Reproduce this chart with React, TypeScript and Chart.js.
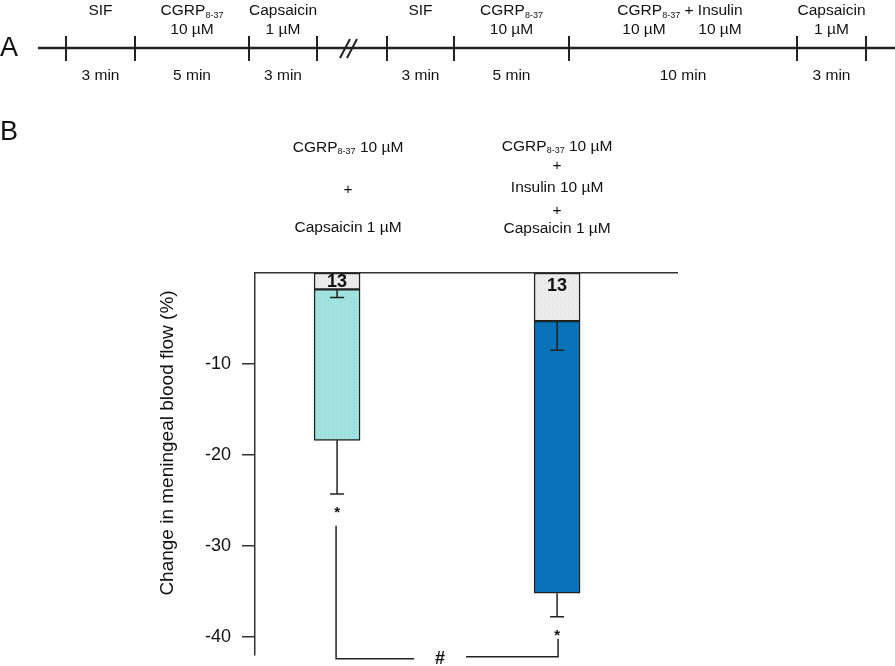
import React, { useEffect, useRef } from 'react';
import { Chart, registerables } from 'chart.js';

Chart.register(...registerables);

const FAMILY = "Arial, 'Liberation Sans', Helvetica, sans-serif";

// ---- data ----
const groupPositions = [1, 2];
const groupLabelLines = [
  ['CGRP_{8-37} 10 µM', '+', 'Capsaicin 1 µM'],
  ['CGRP_{8-37} 10 µM', '+', 'Insulin 10 µM', '+', 'Capsaicin 1 µM'],
];
const baselineValues = [-1.8, -5.3];
const baselineErrors = [0.9, 3.2];
const responseValues = [-18.4, -35.2];
const responseErrors = [5.9, 2.6];
const nLabels = ['13', '13'];
const significanceMarks = ['*', '*'];
const bracketTopValues = [-27.8, -40.2];
const yTickValues = [-10, -20, -30, -40];
const yAxisTitle = 'Change in meningeal blood flow (%)';

// timeline (panel A)
const timelineTicks = [66, 135, 249, 317, 387, 454, 569, 797, 866];
const timelineRow1 = [
  { t: 'SIF', x: 100.5 },
  { t: 'CGRP_{8-37}', x: 192 },
  { t: 'Capsaicin', x: 283 },
  { t: 'SIF', x: 420.5 },
  { t: 'CGRP_{8-37}', x: 511.5 },
  { t: 'CGRP_{8-37} + Insulin', x: 680 },
  { t: 'Capsaicin', x: 831.5 },
];
const timelineRow2 = [
  { t: '10 µM', x: 192 },
  { t: '1 µM', x: 283 },
  { t: '10 µM', x: 511.5 },
  { t: '10 µM', x: 644 },
  { t: '10 µM', x: 720 },
  { t: '1 µM', x: 831.5 },
];
const timelineDurations = [
  { t: '3 min', x: 100.5 },
  { t: '5 min', x: 192 },
  { t: '3 min', x: 283 },
  { t: '3 min', x: 420.5 },
  { t: '5 min', x: 511.5 },
  { t: '10 min', x: 683 },
  { t: '3 min', x: 831.5 },
];

function makePattern(base: string, dot: string): CanvasPattern | string {
  const c = document.createElement('canvas');
  c.width = 4;
  c.height = 4;
  const g = c.getContext('2d');
  if (!g) return base;
  g.fillStyle = base;
  g.fillRect(0, 0, 4, 4);
  g.fillStyle = dot;
  g.fillRect(0, 0, 1, 1);
  g.fillRect(2, 2, 1, 1);
  return g.createPattern(c, 'repeat') || base;
}

function drawRich(ctx: CanvasRenderingContext2D, text: string, cx: number, y: number, size: number) {
  const parts = text
    .split(/(_\{[^}]*\})/)
    .filter((p) => p.length > 0)
    .map((p) => (p.startsWith('_{') ? { t: p.slice(2, -1), sub: true } : { t: p, sub: false }));
  const mainFont = `${size}px ${FAMILY}`;
  const subFont = `${Math.round(size * 0.55)}px ${FAMILY}`;
  let w = 0;
  for (const p of parts) {
    ctx.font = p.sub ? subFont : mainFont;
    w += ctx.measureText(p.t).width;
  }
  let x = cx - w / 2;
  ctx.textAlign = 'left';
  ctx.textBaseline = 'alphabetic';
  for (const p of parts) {
    ctx.font = p.sub ? subFont : mainFont;
    ctx.fillText(p.t, x, p.sub ? y + size * 0.18 : y);
    x += ctx.measureText(p.t).width;
  }
}

const overlayPlugin = {
  id: 'overlay',
  afterDraw(chart: any) {
    const ctx: CanvasRenderingContext2D = chart.ctx;
    const xs = chart.scales.x;
    const ys = chart.scales.y;
    ctx.save();
    ctx.fillStyle = '#111';
    ctx.strokeStyle = '#222';

    // panel letters
    ctx.font = `27px ${FAMILY}`;
    ctx.textAlign = 'left';
    ctx.textBaseline = 'alphabetic';
    ctx.fillText('A', 0, 56);
    ctx.fillText('B', 0, 140);

    // timeline
    ctx.lineWidth = 2.5;
    ctx.beginPath();
    ctx.moveTo(38, 48);
    ctx.lineTo(895, 48);
    ctx.stroke();
    ctx.lineWidth = 2;
    for (const tx of timelineTicks) {
      ctx.beginPath();
      ctx.moveTo(tx, 36);
      ctx.lineTo(tx, 61);
      ctx.stroke();
    }
    // break marks
    ctx.lineWidth = 2;
    ctx.beginPath();
    ctx.moveTo(340, 58);
    ctx.lineTo(350, 39);
    ctx.moveTo(347, 58);
    ctx.lineTo(357, 39);
    ctx.stroke();

    for (const l of timelineRow1) drawRich(ctx, l.t, l.x, 15, 15.5);
    for (const l of timelineRow2) drawRich(ctx, l.t, l.x, 34, 15.5);
    for (const l of timelineDurations) drawRich(ctx, l.t, l.x, 80, 15.5);

    // y axis title
    ctx.save();
    ctx.translate(168, 443);
    ctx.rotate(-Math.PI / 2);
    ctx.font = `19px ${FAMILY}`;
    ctx.textAlign = 'center';
    ctx.textBaseline = 'middle';
    ctx.fillText(yAxisTitle, 0, 0);
    ctx.restore();

    const zeroPx = ys.getPixelForValue(0);
    const capHalf = 7;
    const drawErr = (xPx: number, from: number, to: number) => {
      const y1 = ys.getPixelForValue(from);
      const y2 = ys.getPixelForValue(to);
      ctx.lineWidth = 1.5;
      ctx.strokeStyle = '#222';
      ctx.beginPath();
      ctx.moveTo(xPx, y1);
      ctx.lineTo(xPx, y2);
      ctx.moveTo(xPx - capHalf, y2);
      ctx.lineTo(xPx + capHalf, y2);
      ctx.stroke();
      return y2;
    };

    const labelOffsets = [11, 0];
    const labelBaselines = [
      [151.5, 194, 232],
      [150.5, 170, 191.5, 214.5, 233],
    ];

    groupPositions.forEach((gx, i) => {
      const xPx = xs.getPixelForValue(gx);
      // error bars
      drawErr(xPx, baselineValues[i], baselineValues[i] - baselineErrors[i]);
      const capPx = drawErr(xPx, responseValues[i], responseValues[i] - responseErrors[i]);

      // n label
      const boundaryPx = ys.getPixelForValue(baselineValues[i]);
      ctx.fillStyle = '#111';
      ctx.font = `bold 18px ${FAMILY}`;
      ctx.textAlign = 'center';
      ctx.textBaseline = 'alphabetic';
      ctx.fillText(nLabels[i], xPx, Math.min(zeroPx + 18, boundaryPx - 2));

      // significance
      ctx.font = `bold 15px ${FAMILY}`;
      ctx.fillText(significanceMarks[i], xPx, capPx + 14 + 15 * 0.58);

      // group label
      groupLabelLines[i].forEach((line, j) => {
        drawRich(ctx, line, xPx + labelOffsets[i], labelBaselines[i][j], 15.5);
      });
    });

    // bracket
    const x1 = xs.getPixelForValue(groupPositions[0]) - 1;
    const x2 = xs.getPixelForValue(groupPositions[1]) + 1;
    const bottomLeft = ys.getPixelForValue(-42.4);
    const bottomRight = ys.getPixelForValue(-42.2);
    const midX = (x1 + x2) / 2 - 7;
    ctx.lineWidth = 1.5;
    ctx.beginPath();
    ctx.moveTo(x1, ys.getPixelForValue(bracketTopValues[0]));
    ctx.lineTo(x1, bottomLeft);
    ctx.lineTo(midX - 26, bottomLeft);
    ctx.moveTo(midX + 26, bottomRight);
    ctx.lineTo(x2, bottomRight);
    ctx.lineTo(x2, ys.getPixelForValue(bracketTopValues[1]));
    ctx.stroke();
    ctx.font = `bold 18px ${FAMILY}`;
    ctx.textAlign = 'center';
    ctx.textBaseline = 'alphabetic';
    ctx.fillText('#', midX, (bottomLeft + bottomRight) / 2 + 6);

    ctx.restore();
  },
};

export default function App() {
  const ref = useRef<HTMLCanvasElement>(null);

  useEffect(() => {
    const canvas = ref.current;
    if (!canvas) return;
    const grey = makePattern('#ededed', '#dadada');
    const cyan = makePattern('#a3e4e0', '#88d4d1');
    const blue = makePattern('#0a74bb', '#0668aa');

    const chart = new Chart(canvas, {
      type: 'bar',
      data: {
        datasets: [
          {
            label: 'baseline',
            data: groupPositions.map((x, i) => ({ x, y: [0, baselineValues[i]] })) as any,
            backgroundColor: grey as any,
            borderColor: '#222',
            borderWidth: 1.5,
            borderSkipped: false,
            barThickness: 46,
            grouped: false,
          },
          {
            label: 'response',
            data: groupPositions.map((x, i) => ({ x, y: [baselineValues[i], responseValues[i]] })) as any,
            backgroundColor: [cyan, blue] as any,
            borderColor: '#222',
            borderWidth: 1.5,
            borderSkipped: false,
            barThickness: 46,
            grouped: false,
          },
        ],
      },
      options: {
        responsive: false,
        animation: false,
        layout: { padding: { left: 0, top: 273, right: 218, bottom: 11 } },
        plugins: { legend: { display: false }, tooltip: { enabled: false } },
        scales: {
          x: {
            type: 'linear',
            position: 'top',
            min: 0.627,
            max: 2.545,
            offset: false,
            ticks: { display: false },
            grid: { display: false, drawTicks: false },
            border: { display: true, color: '#333', width: 1.5 },
            afterFit: (s: any) => {
              s.height = 0;
              s.paddingLeft = 0;
              s.paddingRight = 0;
            },
          },
          y: {
            type: 'linear',
            min: -42,
            max: 0,
            afterBuildTicks: (s: any) => {
              s.ticks = yTickValues.map((v) => ({ value: v }));
            },
            afterFit: (s: any) => {
              s.width = 255;
              s.paddingTop = 0;
              s.paddingBottom = 0;
            },
            ticks: {
              color: '#111',
              font: { family: FAMILY, size: 18 },
              padding: 11,
              callback: (v: any) => String(v),
            },
            grid: {
              display: true,
              drawOnChartArea: false,
              drawTicks: true,
              tickLength: 13,
              color: '#333',
              lineWidth: 1.5,
            },
            border: { display: true, color: '#333', width: 1.5 },
          },
        },
      } as any,
      plugins: [overlayPlugin],
    });
    return () => chart.destroy();
  }, []);

  return (
    <div style={{ position: 'absolute', left: 0, top: 0, width: 895, height: 666, background: '#fff' }}>
      <canvas ref={ref} width={895} height={666} style={{ display: 'block' }} />
    </div>
  );
}
